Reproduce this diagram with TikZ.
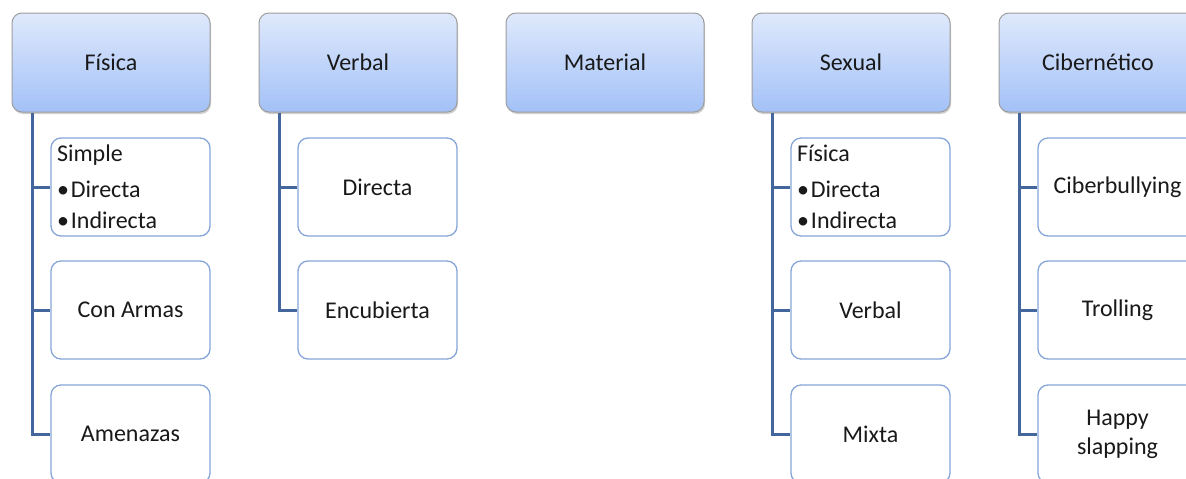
\documentclass[tikz,border=0pt]{standalone}
\usepackage{fontspec}
\setmainfont{Carlito}
\usetikzlibrary{shadows}
\definecolor{topblue}{HTML}{DFE9FC}
\definecolor{botblue}{HTML}{A3C1F7}
\definecolor{treeblue}{HTML}{43669C}
\definecolor{subblue}{HTML}{86A5D9}

\begin{document}
\begin{tikzpicture}
  [x=1pt,y=-1pt,
   every node/.style={text=black!90,font=\fontsize{24}{29}\selectfont},
   catbox/.style={draw=black!38,line width=1pt,rounded corners=10pt,
     top color=topblue,bottom color=botblue,
     minimum width=198pt,minimum height=99pt,
     drop shadow={shadow xshift=1pt,shadow yshift=-2pt,opacity=.3,fill=black!60}},
   subbox/.style={draw=subblue,line width=1.3pt,rounded corners=10pt,fill=white,
     minimum width=159pt,minimum height=98pt,align=center},
   listbox/.style={align=left,text width=147pt,inner sep=6pt,
     font=\fontsize{24}{31}\selectfont},
   tree/.style={draw=treeblue,line width=3pt}]
  \useasboundingbox (0,0) rectangle (1186,479);
  \clip (0,0) rectangle (1186,479);
  \fill[white] (0,0) rectangle (1186,479);
  \node[catbox] (fis) at (111,62.5) {Física};
  \node[catbox] (ver) at (358,62.5) {Verbal};
  \node[catbox] (mat) at (605,62.5) {Material};
  \node[catbox] (sex) at (851,62.5) {Sexual};
  \node[catbox] (cib) at (1098,62.5) {Cibernético};
  \node[subbox,listbox] (fis1) at (130.5,187) {Simple\\[5pt]•\hspace{2pt}Directa\\•\hspace{2pt}Indirecta};
  \node[subbox] (fis2) at (130.5,310) {Con Armas};
  \node[subbox] (fis3) at (130.5,434) {Amenazas};
  \node[subbox] (ver1) at (377.5,187) {Directa};
  \node[subbox] (ver2) at (377.5,310) {Encubierta};
  \node[subbox,listbox] (sex1) at (870.5,187) {Física\\[5pt]•\hspace{2pt}Directa\\•\hspace{2pt}Indirecta};
  \node[subbox] (sex2) at (870.5,310) {Verbal};
  \node[subbox] (sex3) at (870.5,434) {Mixta};
  \node[subbox] (cib1) at (1117.5,187) {Ciberbullying};
  \node[subbox] (cib2) at (1117.5,310) {Trolling};
  \node[subbox] (cib3) at (1117.5,434) {Happy\\slapping};
  \foreach \from/\to in {fis/fis1,fis/fis2,fis/fis3,ver/ver1,ver/ver2,
      sex/sex1,sex/sex2,sex/sex3,cib/cib1,cib/cib2,cib/cib3}
    \draw[tree] ([xshift=21pt]\from.south west) |- (\to.west);
\end{tikzpicture}
\end{document}
